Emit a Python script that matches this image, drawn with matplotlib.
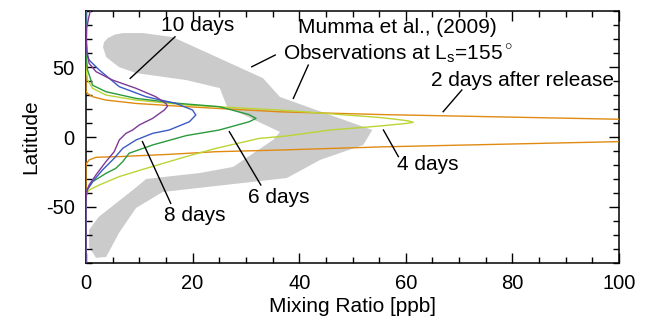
import matplotlib
matplotlib.use("Agg")
import matplotlib.pyplot as plt
from matplotlib.patches import Polygon

plt.rcParams['font.family'] = ['Liberation Sans', 'DejaVu Sans']
plt.rcParams['mathtext.fontset'] = 'custom'
plt.rcParams['mathtext.rm'] = 'Liberation Sans'
plt.rcParams['axes.unicode_minus'] = False

# Observed band (Mumma et al. 2009), outline as (mixing ratio, latitude)
obs_x = [3.2, 3.4, 4.1, 5.4, 6.9, 10.7, 16.3, 33.2, 36.4, 53.7, 52.0, 43.9, 37.7,
         14.4, 9.4, 6.2, 3.8, 1.9, 0.6, 0.6, 2.4, 8.8, 11.3, 21.4, 27.6, 35.1,
         36.4, 26.5, 25.1, 18.8, 9.4, 6.2, 3.8]
obs_lat = [64.3, 67.9, 70.7, 73.2, 74.3, 74.3, 71.4, 42.1, 28.6, 5.0, -5.7, -16.4, -29.3,
           -39.3, -50.7, -68.6, -85.7, -86.4, -78.6, -66.4, -57.1, -37.9, -30.0, -25.7, -21.4, -2.1,
           3.6, 21.4, 35.0, 40.7, 45.7, 50.0, 57.1]

# Model profiles: mixing ratio [ppb] vs latitude
x_2d = [0, 0, 0.3, 1.25, 3.75, 9.4, 18.8, 24.4, 36.4, 56, 100, 190,
        100, 56, 36.4, 24.4, 15.6, 6.25, 1.9, 0.6, 0.1, 0, 0]
lat_2d = [90, 33, 31, 28.8, 26.4, 24, 21.7, 20.5, 18, 16, 12.7, 5,
          -3.3, -7, -9.3, -10.5, -12.4, -14, -14.5, -16.4, -19, -21, -90]

x_4d = [0, 0, 0.3, 1.25, 3.75, 9.4, 18.8, 24.4, 37.5, 49, 55, 58.3, 60.5, 61.4,
        60, 55.2, 45.8, 37.5, 32.5, 24.4, 18.8, 11.3, 6.25, 2.5, 0.6, 0, 0]
lat_4d = [90, 50, 40.7, 34.8, 30, 26.4, 22.9, 21.7, 19, 15.7, 14, 12.6, 11.5, 10.5,
          9.7, 7.9, 5, 0.7, -1, -8.1, -14, -22.4, -28.3, -34.3, -37.9, -41, -90]

x_6d = [0, 0, 0.3, 1.25, 3.75, 9.4, 17.5, 25, 30.6, 31.9, 30.6, 25, 18.8, 12.5,
        8.1, 6.9, 5.6, 3.75, 1.25, 0.2, 0, 0]
lat_6d = [90, 60, 48, 37, 32.4, 27.6, 24, 21.7, 16, 13.3, 10.9, 5, 1, -5.7,
          -11.6, -17.6, -22.4, -26, -31.9, -38, -45, -90]

x_8d = [0, 0, 0.2, 0.6, 2.5, 6.25, 11.3, 16.9, 20, 20.6, 19.4, 15.6, 12.5, 9.4,
        6.9, 5.3, 3.1, 1.25, 0.2, 0, 0]
lat_8d = [90, 70, 60, 55, 47.9, 36, 28.8, 24, 19.3, 15.7, 10.9, 5, 2.6, -2.1,
          -8.1, -15.2, -23.6, -31.9, -38, -45, -90]

x_10d = [0.8, 0.5, 0.15, 0.1, 0.2, 0.6, 1.9, 5, 9.4, 13.1, 15, 15.3, 14.7, 12.5,
         10, 8.75, 7.5, 6.25, 5.3, 3.75, 1.9, 0.6, 0.1, 0, 0]
lat_10d = [90, 85, 78, 70, 60, 52.6, 46.7, 40.7, 34.8, 28.8, 24, 22, 19.3, 13.3,
           8.6, 5, 2.6, -2.1, -10.5, -17.6, -27, -34.3, -39, -45, -90]

fig = plt.figure(figsize=(6.51, 3.27), dpi=100)
ax = fig.add_axes([0.132, 0.196, 0.819, 0.770])

ax.add_patch(Polygon(list(zip(obs_x, obs_lat)), closed=True,
                     facecolor='#cbcbcb', edgecolor='none', zorder=1))

lw = 1.0
ax.plot(x_2d, lat_2d, color='#e08a12', lw=lw, zorder=3)
ax.plot(x_4d, lat_4d, color='#bcd434', lw=lw, zorder=3)
ax.plot(x_6d, lat_6d, color='#2a9a3c', lw=lw, zorder=3)
ax.plot(x_8d, lat_8d, color='#3a5ac6', lw=lw, zorder=3)
ax.plot(x_10d, lat_10d, color='#7d3a98', lw=lw, zorder=3)

fs = 15
# labels with leader lines
ax.text(21, 79.6, '10 days', ha='center', va='center', fontsize=fs)
ax.plot([16.7, 8.3], [71.6, 41.9], color='k', lw=1.0, zorder=4)

ax.text(58.5, 78.6, 'Mumma et al., (2009)', ha='center', va='center', fontsize=fs)
ax.text(58.5, 60, r'Observations at L$_\mathregular{s}$=155$^\circ$', ha='center', va='center', fontsize=fs)
ax.plot([35.5, 31.1], [58.6, 50.2], color='k', lw=1.0, zorder=4)
ax.plot([41.7, 38.9], [51.4, 27.6], color='k', lw=1.0, zorder=4)

ax.text(81.8, 40.7, '2 days after release', ha='center', va='center', fontsize=fs)
ax.plot([70.5, 67], [33.6, 18.1], color='k', lw=1.0, zorder=4)

ax.text(64.2, -20, '4 days', ha='center', va='center', fontsize=fs)
ax.plot([55.8, 58.6], [5, -14], color='k', lw=1.0, zorder=4)

ax.text(36.1, -42.9, '6 days', ha='center', va='center', fontsize=fs)
ax.plot([26.9, 32.8], [3.8, -34.3], color='k', lw=1.0, zorder=4)

ax.text(20.5, -56.3, '8 days', ha='center', va='center', fontsize=fs)
ax.plot([10.6, 15.9], [-3.3, -47.4], color='k', lw=1.0, zorder=4)

ax.set_xlim(0, 100)
ax.set_ylim(-90, 90)
ax.set_xticks([0, 20, 40, 60, 80, 100])
ax.set_xticks(range(0, 101, 5), minor=True)
ax.set_yticks([-50, 0, 50])
ax.set_yticks(range(-90, 91, 10), minor=True)
ax.tick_params(which='both', direction='in', top=True, right=True, width=1.0)
ax.tick_params(which='major', length=7, labelsize=14.5, pad=8)
ax.tick_params(which='minor', length=4)
for s in ax.spines.values():
    s.set_linewidth(1.1)

ax.set_xlabel('Mixing Ratio [ppb]', fontsize=fs, labelpad=3)
ax.set_ylabel('Latitude', fontsize=fs, labelpad=4)

fig.savefig('out.png', dpi=100)
